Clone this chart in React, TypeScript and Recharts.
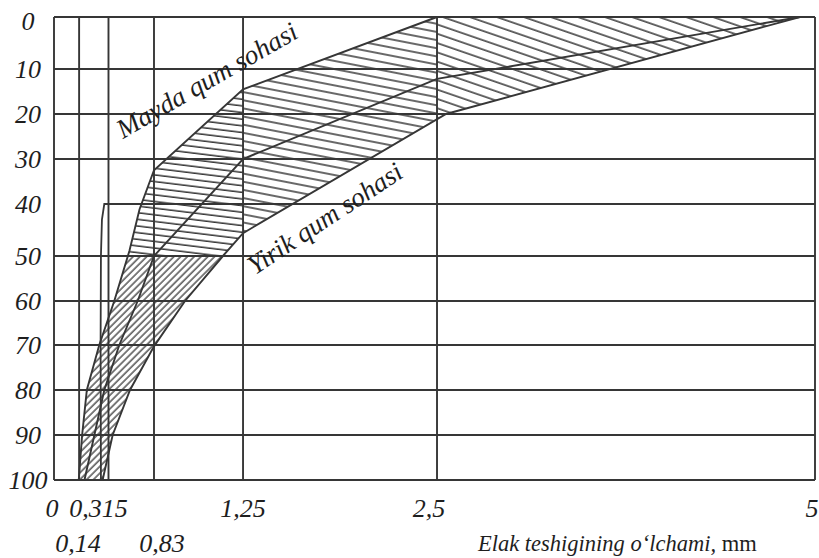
import React from "react";
import { ComposedChart, XAxis, YAxis, Scatter, ReferenceLine, ReferenceDot, Polygon } from "recharts";

// sieve openings (mm) and residue grid (%)
const sieves = [0, 0.14, 0.315, 0.63, 1.25, 2.5, 5];
const sieveLabels = ["0", "0,14", "0,315", "0,83", "1,25", "2,5", "5"];
const residues = [0, 10, 20, 30, 40, 50, 60, 70, 80, 90, 100];

// curves: [opening mm, residue %]
const fineLimit = [[2.5, 0], [1.25, 14.5], [0.63, 32.5], [0.53, 41], [0.46, 49], [0.355, 60], [0.26, 70], [0.186, 80], [0.158, 90], [0.138, 100]];
const middleLine = [[4.9, 0], [2.5, 12.2], [1.25, 30], [0.63, 50], [0.517, 60], [0.39, 70], [0.29, 80], [0.231, 90], [0.172, 100]];
const coarseLimit = [[4.9, 0], [2.56, 20], [1.25, 45.6], [1.11, 50], [0.846, 60], [0.63, 70.3], [0.464, 80], [0.344, 90], [0.28, 100]];
const line40 = [[5, 40], [0.29, 40], [0.276, 43], [0.27, 50], [0.268, 70], [0.27, 100]];

// hatched zones
const zoneRight = [[2.5, 0], [4.9, 0], [2.56, 20], [2.5, 21]];
const zoneMid = [[1.25, 14.5], [2.5, 0], [2.5, 21], [1.25, 45.6]];
const zoneLeft = [[1.25, 14.5], [0.63, 32.5], [0.53, 41], [0.45, 50], [1.11, 50], [1.25, 45.6]];
const zoneLow = [[0.45, 50], [0.355, 60], [0.26, 70], [0.186, 80], [0.158, 90], [0.138, 100], [0.28, 100], [0.344, 90], [0.464, 80], [0.63, 70.3], [0.846, 60], [1.11, 50]];

const pts = (a: number[][]) => a.map(([x, y]) => ({ x, y }));

// the drawing's grid is not evenly spaced, so both axes get a piecewise scale
const xFrac = [0, 0.033, 0.0716, 0.1314, 0.2484, 0.5033, 1];
const yFrac = [0, 0.1123, 0.2095, 0.3067, 0.4039, 0.5162, 0.6134, 0.7084, 0.8056, 0.9028, 1];

function pieceScale(stops: number[], fracs: number[]): any {
  let dom: number[] = [stops[0], stops[stops.length - 1]];
  let rng: number[] = [0, 1];
  const toFrac = (v: number) => {
    let i = 0;
    while (i < stops.length - 2 && v > stops[i + 1]) i++;
    return fracs[i] + ((v - stops[i]) / (stops[i + 1] - stops[i])) * (fracs[i + 1] - fracs[i]);
  };
  const scale: any = (v: any) => rng[0] + toFrac(Number(v)) * (rng[1] - rng[0]);
  scale.domain = (d?: number[]) => (d === undefined ? dom : ((dom = d), scale));
  scale.range = (r?: number[]) => (r === undefined ? rng : ((rng = r), scale));
  scale.copy = () => pieceScale(stops, fracs).domain(dom).range(rng);
  scale.ticks = () => stops;
  scale.tickFormat = () => (v: number) => String(v);
  scale.nice = () => scale;
  scale.clamp = () => scale;
  scale.invert = (px: number) => {
    const f = (px - rng[0]) / (rng[1] - rng[0]);
    let i = 0;
    while (i < fracs.length - 2 && f > fracs[i + 1]) i++;
    return stops[i] + ((f - fracs[i]) / (fracs[i + 1] - fracs[i])) * (stops[i + 1] - stops[i]);
  };
  return scale;
}

const INK = "#363636";
const FONT = "'Liberation Serif', 'DejaVu Serif', serif";

const NoDot = () => <g />;

const hatch = (fill: string) => (p: any) => <Polygon points={p.points} fill={fill} stroke="none" />;

const XTick = (props: any) => {
  const { x, y, payload } = props;
  const i = sieves.indexOf(payload.value);
  const lower = payload.value === 0.14 || payload.value === 0.63;
  const shift: Record<string, number> = { "0": -2, "0,14": -1, "0,315": -10, "0,83": 8, "1,25": 0, "2,5": -8, "5": -3 };
  const label = sieveLabels[i];
  return (
    <text x={x + (shift[label] || 0)} y={y + (lower ? 72 : 37)} textAnchor="middle" fontFamily={FONT} fontStyle="italic" fontSize={26} fill="#1e1e1e">
      {label}
    </text>
  );
};

const YTick = (props: any) => {
  const { y, payload } = props;
  return (
    <text x={28} y={y + (payload.value === 0 ? 13 : 9)} textAnchor="middle" fontFamily={FONT} fontStyle="italic" fontSize={26} fill="#1e1e1e">
      {payload.value}
    </text>
  );
};

const zoneText = (text: string, angle: number) => (p: any) => (
  <text x={p.cx} y={p.cy} textAnchor="middle" fontFamily={FONT} fontStyle="italic" fontSize={27} fill="#1e1e1e" transform={`rotate(${angle} ${p.cx} ${p.cy})`}>
    {text}
  </text>
);

const AxisTitle = (props: any) => {
  const vb = props.viewBox || { x: 54, y: 480 };
  return (
    <text x={vb.x + 424} y={vb.y + 71} fontFamily={FONT} fontSize={22.5} fill="#1e1e1e">
      <tspan fontStyle="italic">Elak teshigining o‘lchami,</tspan>
      <tspan> mm</tspan>
    </text>
  );
};

export default function App() {
  return (
    <div style={{ position: "absolute", left: 0, top: 0, background: "#fff" }}>
      <ComposedChart width={819} height={558} margin={{ top: 17, right: 4, left: 0, bottom: 0 }}>
        <defs>
          <pattern id="hR" patternUnits="userSpaceOnUse" width="30" height="8.8" patternTransform="rotate(19)">
            <line x1="0" y1="4" x2="30" y2="4" stroke={INK} strokeWidth={1.5} />
          </pattern>
          <pattern id="hM" patternUnits="userSpaceOnUse" width="30" height="8" patternTransform="rotate(11)">
            <line x1="0" y1="4" x2="30" y2="4" stroke={INK} strokeWidth={1.5} />
          </pattern>
          <pattern id="hL" patternUnits="userSpaceOnUse" width="30" height="6.6" patternTransform="rotate(7)">
            <line x1="0" y1="3" x2="30" y2="3" stroke={INK} strokeWidth={1.5} />
          </pattern>
          <pattern id="hD" patternUnits="userSpaceOnUse" width="30" height="4.8" patternTransform="rotate(-45)">
            <line x1="0" y1="2" x2="30" y2="2" stroke={INK} strokeWidth={1.3} />
          </pattern>
        </defs>
        <XAxis
          type="number"
          dataKey="x"
          domain={[0, 5]}
          scale={pieceScale(sieves, xFrac)}
          ticks={sieves}
          interval={0}
          height={78}
          axisLine={false}
          tickLine={false}
          tickSize={0}
          tickMargin={0}
          tick={<XTick />}
          label={{ content: <AxisTitle /> }}
        />
        <YAxis
          type="number"
          dataKey="y"
          domain={[0, 100]}
          reversed
          scale={pieceScale(residues, yFrac)}
          ticks={residues}
          interval={0}
          width={54}
          axisLine={false}
          tickLine={false}
          tickSize={0}
          tickMargin={0}
          tick={<YTick />}
        />

        <Scatter data={pts(zoneRight)} shape={NoDot} line={hatch("url(#hR)")} isAnimationActive={false} />
        <Scatter data={pts(zoneMid)} shape={NoDot} line={hatch("url(#hM)")} isAnimationActive={false} />
        <Scatter data={pts(zoneLeft)} shape={NoDot} line={hatch("url(#hL)")} isAnimationActive={false} />
        <Scatter data={pts(zoneLow)} shape={NoDot} line={hatch("url(#hD)")} isAnimationActive={false} />

        {sieves.map((s) => (
          <ReferenceLine key={"v" + s} x={s} stroke={INK} strokeWidth={1.9} />
        ))}
        {residues.filter((r) => r !== 40).map((r) => (
          <ReferenceLine key={"h" + r} y={r} stroke={INK} strokeWidth={1.9} />
        ))}

        <Scatter data={pts(line40)} shape={NoDot} line={{ stroke: INK, strokeWidth: 1.8 }} lineJointType="linear" isAnimationActive={false} />
        <Scatter data={pts(fineLimit)} shape={NoDot} line={{ stroke: INK, strokeWidth: 1.9 }} lineJointType="linear" isAnimationActive={false} />
        <Scatter data={pts(middleLine)} shape={NoDot} line={{ stroke: INK, strokeWidth: 1.9 }} lineJointType="linear" isAnimationActive={false} />
        <Scatter data={pts(coarseLimit)} shape={NoDot} line={{ stroke: INK, strokeWidth: 1.9 }} lineJointType="linear" isAnimationActive={false} />

        <ReferenceDot x={1.03} y={14.2} r={0} shape={zoneText("Mayda qum sohasi", -30)} />
        <ReferenceDot x={1.81} y={44.2} r={0} shape={zoneText("Yirik qum sohasi", -33.4)} />
      </ComposedChart>
    </div>
  );
}
